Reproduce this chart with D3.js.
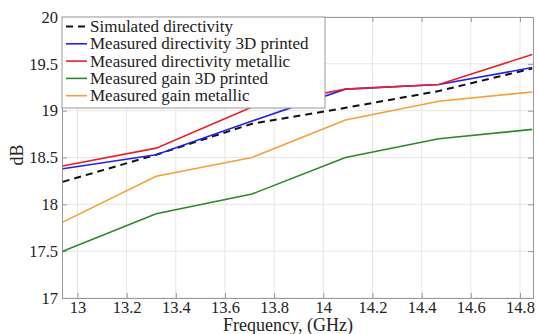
<!DOCTYPE html>
<html lang="en">
<meta charset="utf-8" />
<style>
  body { margin: 0; background: #fff; }
  svg text { font-family: "Liberation Serif", "Times New Roman", Times, "DejaVu Serif", serif !important; fill: #222; }
</style>
<svg width="538" height="334"></svg>
<script src="https://d3js.org/d3.v7.min.js"></script>
<script>
// frequencies (GHz)
var freq = [12.94, 13.32, 13.71, 14.09, 14.47, 14.85];

var simDir   = [18.24, 18.53, 18.86, 19.03, 19.21, 19.45];
var dir3d    = [18.38, 18.53, 18.89, 19.23, 19.28, 19.46];
var dirMetal = [18.41, 18.60, 19.04, 19.23, 19.28, 19.60];
var gain3d   = [17.50, 17.90, 18.11, 18.50, 18.70, 18.80];
var gainMetal= [17.81, 18.30, 18.50, 18.90, 19.10, 19.20];

var xTicks = [13, 13.2, 13.4, 13.6, 13.8, 14, 14.2, 14.4, 14.6, 14.8];
var yTicks = [17, 17.5, 18, 18.5, 19, 19.5, 20];

var seriesNames = ["Simulated directivity", "Measured directivity 3D printed",
  "Measured directivity metallic", "Measured gain 3D printed", "Measured gain metallic"];
var seriesColors = ["#111", "#2222ee", "#e8202a", "#2a8a2a", "#f7a03a"];
var seriesData = [simDir, dir3d, dirMetal, gain3d, gainMetal];

var svg = d3.select("svg");
// plot box (pixels)
var pLeft = 62, pRight = 533, pTop = 17, pBottom = 298;

var x = d3.scaleLinear().domain([12.937, 14.853]).range([pLeft, pRight]);
var y = d3.scaleLinear().domain([17, 20]).range([pBottom, pTop]);

// grid
svg.append("g").selectAll("line").data(xTicks).enter().append("line")
  .attr("x1", d => x(d)).attr("x2", d => x(d))
  .attr("y1", pTop).attr("y2", pBottom)
  .attr("stroke", "#e6e6e6").attr("stroke-width", 1);
svg.append("g").selectAll("line").data(yTicks).enter().append("line")
  .attr("x1", pLeft).attr("x2", pRight)
  .attr("y1", d => y(d)).attr("y2", d => y(d))
  .attr("stroke", "#e6e6e6").attr("stroke-width", 1);

// axes
svg.append("g").attr("transform", "translate(0," + pBottom + ")")
  .call(d3.axisBottom(x).tickValues(xTicks).tickSize(-5).tickPadding(3).tickFormat(d3.format("")));
svg.append("g").attr("transform", "translate(" + pLeft + ",0)")
  .call(d3.axisLeft(y).tickValues(yTicks).tickSize(-5).tickPadding(4).tickFormat(d3.format("")));
svg.append("g").attr("transform", "translate(" + pRight + ",0)")
  .call(d3.axisRight(y).tickValues(yTicks).tickSize(-5).tickFormat(""));
svg.append("g").attr("transform", "translate(0," + pTop + ")")
  .call(d3.axisTop(x).tickValues(xTicks).tickSize(-5).tickFormat(""));

svg.selectAll(".domain").attr("stroke", "#999");
svg.selectAll(".tick line").attr("stroke", "#999");
svg.selectAll(".tick text").attr("font-size", 16.5).attr("fill", "#222");

// lines
var line = d3.line().x((d, i) => x(freq[i])).y(d => y(d));
seriesData.forEach(function(s, k) {
  svg.append("path")
    .datum(s)
    .attr("fill", "none")
    .attr("stroke", seriesColors[k])
    .attr("stroke-width", k == 0 ? 2 : 1.6)
    .attr("stroke-dasharray", k == 0 ? "7,5" : null)
    .attr("d", line);
});

// legend
var lg = svg.append("g");
lg.append("rect")
  .attr("x", pLeft).attr("y", pTop).attr("width", 263).attr("height", 91)
  .attr("fill", "#fff").attr("stroke", "#999");
seriesNames.forEach(function(name, k) {
  var yy = pTop + 9.5 + k * 17.3;
  lg.append("line")
    .attr("x1", 66).attr("x2", 87).attr("y1", yy).attr("y2", yy)
    .attr("stroke", seriesColors[k]).attr("stroke-width", k == 0 ? 2 : 1.6)
    .attr("stroke-dasharray", k == 0 ? "7,5" : null);
  lg.append("text")
    .attr("x", 90).attr("y", yy + 5.5)
    .attr("font-size", 17)
    .text(name);
});

// axis titles
svg.append("text")
  .attr("transform", "translate(23,155) rotate(-90)")
  .attr("text-anchor", "middle")
  .attr("font-size", 18)
  .text("dB");
svg.append("text")
  .attr("x", 288).attr("y", 331)
  .attr("text-anchor", "middle")
  .attr("font-size", 18)
  .text("Frequency, (GHz)");
</script>
</html>
